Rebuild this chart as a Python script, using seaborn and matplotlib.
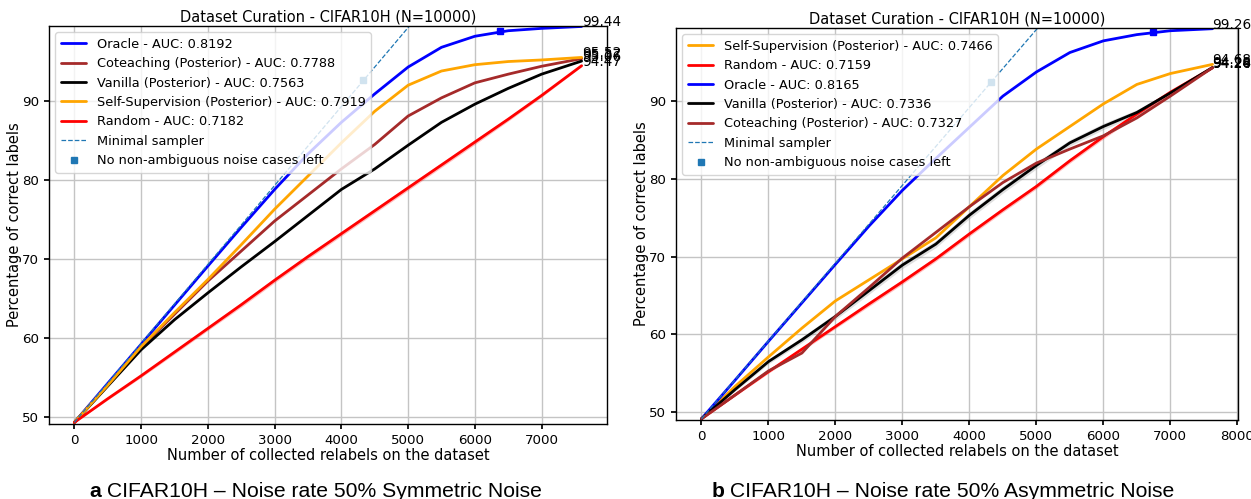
import numpy as np
import pandas as pd
import matplotlib
matplotlib.use("Agg")
import matplotlib.pyplot as plt
import seaborn as sns

# ---------------- data ----------------
title = "Dataset Curation - CIFAR10H (N=10000)"
xlabel = "Number of collected relabels on the dataset"
ylabel = "Percentage of correct labels"

# Panel a : symmetric noise
a_x = [0, 500, 1000, 1500, 2000, 2500, 3000, 3500, 4000, 4500, 5000, 5500, 6000, 6500, 7000, 7600]
a_oracle = [49.3, 54.25, 59.2, 64.15, 69.1, 74.0, 78.8, 83.3, 87.3, 90.9, 94.3, 96.8, 98.2, 98.9, 99.2, 99.44]
a_cotea = [49.3, 54.0, 58.8, 63.0, 67.2, 71.0, 74.8, 78.1, 81.4, 84.5, 88.1, 90.4, 92.3, 93.4, 94.4, 95.37]
a_vanilla = [49.3, 53.9, 58.5, 62.3, 65.7, 69.0, 72.2, 75.5, 78.8, 81.4, 84.4, 87.3, 89.6, 91.6, 93.4, 95.06]
a_selfsup = [49.3, 54.0, 58.9, 63.2, 67.4, 71.8, 76.3, 80.5, 84.7, 88.7, 92.0, 93.8, 94.6, 95.0, 95.2, 95.52]
a_random = [49.3, 52.3, 55.2, 58.2, 61.2, 64.2, 67.3, 70.3, 73.2, 76.1, 79.0, 81.9, 84.8, 87.7, 90.7, 94.47]
a_random_std = [0.0, 0.15, 0.2, 0.25, 0.25, 0.3, 0.3, 0.3, 0.3, 0.3, 0.3, 0.3, 0.3, 0.25, 0.2, 0.1]
a_auc = {"Oracle": 0.8192, "Coteaching (Posterior)": 0.7788, "Vanilla (Posterior)": 0.7563,
         "Self-Supervision (Posterior)": 0.7919, "Random": 0.7182}
a_order = ["Oracle", "Coteaching (Posterior)", "Vanilla (Posterior)", "Self-Supervision (Posterior)", "Random"]
a_min_start = 49.3
a_noise_left_x = 4330
a_oracle_done_x = 6380
a_oracle_done_y = 98.9

# Panel b : asymmetric noise
b_x = [0, 500, 1000, 1500, 2000, 2500, 3000, 3500, 4000, 4500, 5000, 5500, 6000, 6500, 7000, 7630]
b_oracle = [49.15, 54.1, 59.1, 64.05, 69.0, 73.9, 78.5, 82.6, 86.6, 90.6, 93.7, 96.2, 97.7, 98.5, 99.0, 99.26]
b_cotea = [49.15, 52.2, 55.3, 57.6, 62.3, 66.0, 69.8, 73.1, 76.4, 79.5, 82.0, 83.8, 85.5, 87.8, 90.6, 94.26]
b_vanilla = [49.15, 52.9, 56.5, 59.3, 62.3, 65.6, 68.9, 71.6, 75.3, 78.6, 81.7, 84.6, 86.7, 88.5, 91.0, 94.28]
b_vanilla_std = [0.0, 0.2, 0.3, 0.35, 0.4, 0.45, 0.45, 0.45, 0.45, 0.45, 0.45, 0.4, 0.4, 0.35, 0.3, 0.1]
b_selfsup = [49.15, 53.3, 57.1, 60.8, 64.3, 67.0, 69.7, 72.4, 76.4, 80.4, 83.8, 86.7, 89.6, 92.1, 93.5, 94.68]
b_random = [49.15, 52.2, 55.2, 58.1, 61.0, 63.9, 66.75, 69.7, 72.9, 76.0, 79.0, 82.3, 85.4, 88.3, 91.1, 94.24]
b_random_std = [0.0, 0.15, 0.2, 0.25, 0.25, 0.3, 0.3, 0.3, 0.3, 0.3, 0.3, 0.3, 0.3, 0.25, 0.2, 0.1]
b_auc = {"Self-Supervision (Posterior)": 0.7466, "Random": 0.7159, "Oracle": 0.8165,
         "Vanilla (Posterior)": 0.7336, "Coteaching (Posterior)": 0.7327}
b_order = ["Self-Supervision (Posterior)", "Random", "Oracle", "Vanilla (Posterior)", "Coteaching (Posterior)"]
b_min_start = 49.15
b_noise_left_x = 4330
b_oracle_done_x = 6735
b_oracle_done_y = 98.9

min_sampler_x = [0, 5200]

captions = [("a", " CIFAR10H \u2013 Noise rate 50% Symmetric Noise"),
            ("b", " CIFAR10H \u2013 Noise rate 50% Asymmetric Noise")]

colors = {"Oracle": "blue", "Coteaching (Posterior)": "brown", "Vanilla (Posterior)": "black",
          "Self-Supervision (Posterior)": "orange", "Random": "red"}

# ---------------- style ----------------
sns.set_theme(style="whitegrid", rc={
    "axes.edgecolor": "black", "axes.linewidth": 1.0,
    "grid.color": "#c4c4c4", "grid.linewidth": 1.0,
    "xtick.bottom": True, "ytick.left": True,
    "xtick.major.size": 3.5, "ytick.major.size": 3.5,
    "xtick.color": "black", "ytick.color": "black",
    "text.color": "black", "axes.labelcolor": "black",
    "font.size": 9.5, "axes.labelsize": 10.5, "axes.titlesize": 10.5,
    "xtick.labelsize": 9.6, "ytick.labelsize": 9.6, "legend.fontsize": 9.3,
})
plt.rcParams["font.family"] = ["DejaVu Sans"]

W, H = 1251, 499
fig = plt.figure(figsize=(W / 100, H / 100), dpi=100)
ax_a = fig.add_axes([49 / W, 1 - 424 / H, (607 - 49) / W, (424 - 26) / H])
ax_b = fig.add_axes([676 / W, 1 - 420 / H, (1238 - 676) / W, (420 - 28) / H])


def draw(ax, xs, series, auc, order, stds, min_start, noise_x, done_x, done_y, ylim):
    for name in order:
        ys = series[name]
        df = pd.DataFrame({"x": xs, "y": ys})
        if name in stds:
            lo = np.array(ys) - np.array(stds[name])
            hi = np.array(ys) + np.array(stds[name])
            ax.fill_between(xs, lo, hi, color=colors[name] if name != "Vanilla (Posterior)" else "gray",
                            alpha=0.25, linewidth=0)
        sns.lineplot(data=df, x="x", y="y", ax=ax, color=colors[name], linewidth=2,
                     label=f"{name} - AUC: {auc[name]:.4f}")
        ax.text(xs[-1], ys[-1], f"{ys[-1]:.2f}", fontsize=9.8, clip_on=False)
    mdf = pd.DataFrame({"x": min_sampler_x, "y": [min_start + v / 100 for v in min_sampler_x]})
    sns.lineplot(data=mdf, x="x", y="y", ax=ax, color="tab:blue", linestyle="--", linewidth=0.9,
                 label="Minimal sampler")
    ax.plot([done_x], [done_y], marker="s", color="blue", markersize=4, linestyle="none")
    ax.plot([noise_x], [min_start + noise_x / 100], marker="s", color="tab:blue", markersize=4,
            linestyle="none", label="No non-ambiguous noise cases left")
    ax.set_ylim(*ylim)
    ax.set_yticks([50, 60, 70, 80, 90])
    ax.set_xlabel(xlabel, labelpad=1)
    ax.set_ylabel(ylabel, labelpad=0)
    ax.set_title(title, pad=3)
    ax.legend(loc="upper left", framealpha=0.8, borderaxespad=0.5, handlelength=2.0)


draw(ax_a, a_x, {"Oracle": a_oracle, "Coteaching (Posterior)": a_cotea, "Vanilla (Posterior)": a_vanilla,
                 "Self-Supervision (Posterior)": a_selfsup, "Random": a_random},
     a_auc, a_order, {"Random": a_random_std}, a_min_start, a_noise_left_x,
     a_oracle_done_x, a_oracle_done_y, (49.1, 99.5))
draw(ax_b, b_x, {"Oracle": b_oracle, "Coteaching (Posterior)": b_cotea, "Vanilla (Posterior)": b_vanilla,
                 "Self-Supervision (Posterior)": b_selfsup, "Random": b_random},
     b_auc, b_order, {"Random": b_random_std, "Vanilla (Posterior)": b_vanilla_std}, b_min_start,
     b_noise_left_x, b_oracle_done_x, b_oracle_done_y, (49.0, 99.35))
ax_a.set_xlim(-380, 7980)
ax_b.set_xlim(-380, 8010)

# captions with bold panel letter
fig.canvas.draw()
r = fig.canvas.get_renderer()
for (letter, rest), cx in zip(captions, [316, 943]):
    t1 = fig.text(0, 0, letter, fontsize=15.2, fontweight="bold", family="Liberation Sans")
    t2 = fig.text(0, 0, rest, fontsize=15.2, family="Liberation Sans")
    w1 = t1.get_window_extent(r).width
    w2 = t2.get_window_extent(r).width
    x0 = cx - (w1 + w2) / 2
    yb = 1 - 497 / H
    t1.set_position((x0 / W, yb))
    t2.set_position(((x0 + w1) / W, yb))

fig.savefig("out.png", dpi=100)
